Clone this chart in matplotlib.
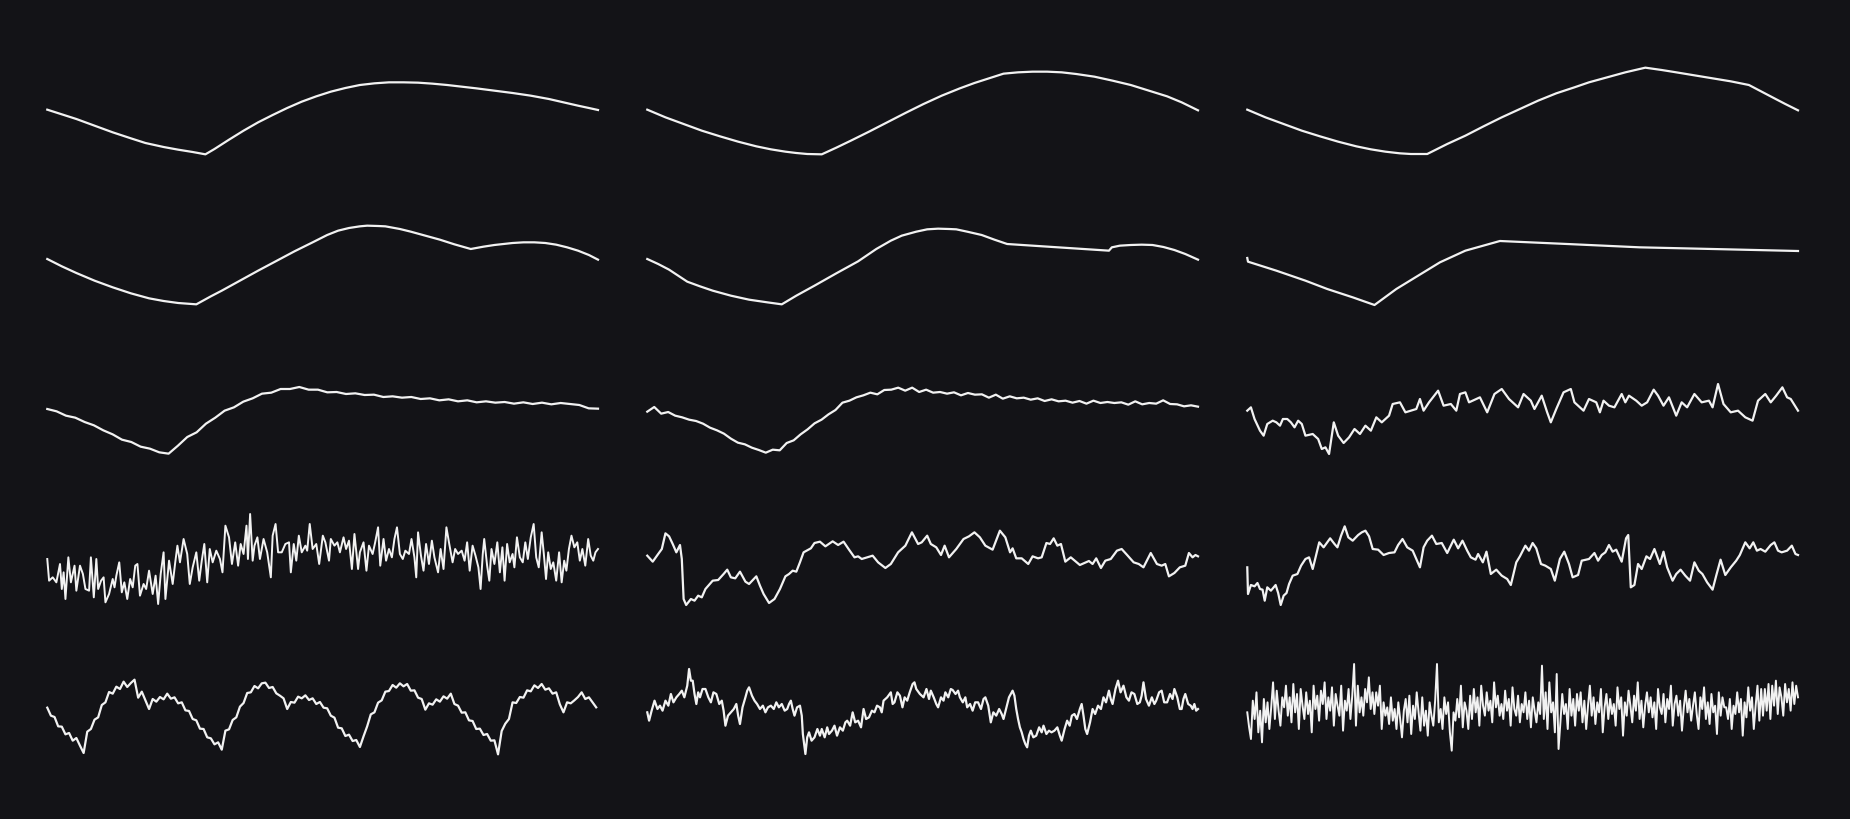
import numpy as np
import matplotlib
matplotlib.use("Agg")
import matplotlib.pyplot as plt

# 5 x 3 grid of unlabeled line sketches
# (levels in arbitrary units, higher = up)

# row 1
r1c1_x = [20, 60, 100, 150, 200, 250, 290, 340, 380, 420, 455, 480, 520, 560, 600, 640, 680, 720, 760, 800,
          840, 880, 920, 960, 1000, 1040, 1080, 1120, 1160, 1200, 1250, 1300, 1350, 1400, 1440, 1480, 1510, 1535]
r1c1_y = [223, 209, 195, 175, 155, 137, 123, 111, 103, 96, 89, 105, 133, 160, 185, 207, 228, 247, 263, 277,
          288, 297, 302, 305, 305, 304, 301, 297, 292, 287, 280, 273, 265, 255, 245, 235, 228, 222]
r1c2_x = [20, 70, 120, 170, 220, 270, 320, 360, 400, 430, 460, 500, 540, 580, 630, 680, 730, 780, 830, 880,
          920, 960, 1000, 1040, 1080, 1120, 1160, 1200, 1250, 1300, 1350, 1400, 1450, 1490, 1535]
r1c2_y = [223, 200, 180, 160, 143, 127, 113, 104, 97, 93, 90, 89, 109, 130, 157, 185, 213, 240, 265, 287,
          303, 317, 331, 335, 337, 337, 335, 330, 322, 310, 297, 280, 263, 245, 221]
r1c3_x = [20, 70, 120, 170, 220, 270, 320, 360, 400, 440, 470, 515, 570, 620, 670, 720, 770, 820, 870, 920,
          960, 1000, 1060, 1115, 1160, 1200, 1250, 1300, 1350, 1400, 1435, 1470, 1500, 1535]
r1c3_y = [223, 200, 180, 160, 143, 127, 113, 104, 97, 92, 90, 90, 120, 145, 173, 200, 225, 250, 272, 290,
          305, 317, 335, 349, 342, 335, 326, 317, 308, 297, 277, 257, 240, 221]

# row 2
r2c1_x = [20, 60, 100, 150, 200, 250, 300, 340, 380, 430, 470, 500, 550, 600, 650, 700, 750, 790, 820, 850,
          880, 900, 930, 950, 990, 1020, 1060, 1100, 1140, 1185, 1220, 1250, 1300, 1330, 1360, 1390, 1420, 1450,
          1480, 1510, 1535]
r2c1_y = [180, 158, 138, 115, 95, 77, 62, 54, 48, 44, 68, 85, 115, 145, 174, 203, 230, 252, 265, 273,
          278, 280, 279, 278, 270, 262, 250, 238, 224, 210, 217, 222, 228, 230, 230, 228, 223, 215,
          205, 192, 178]
r2c2_x = [20, 50, 80, 105, 130, 165, 200, 250, 300, 350, 390, 430, 480, 540, 600, 650, 690, 720, 760, 790,
          820, 850, 870, 900, 940, 975, 1010, 1080, 1150, 1220, 1290, 1298, 1320, 1350, 1380, 1410, 1440, 1470,
          1500, 1535]
r2c2_y = [180, 165, 148, 130, 112, 98, 85, 70, 58, 50, 44, 70, 100, 137, 173, 210, 235, 250, 262, 269,
          271, 270, 269, 262, 252, 238, 225, 220, 215, 210, 205, 215, 220, 222, 223, 222, 216, 207,
          195, 178]
r2c3_x = [20, 22, 100, 180, 240, 310, 370, 430, 490, 550, 620, 715, 900, 1100, 1300, 1535]
r2c3_y = [183, 172, 145, 115, 90, 65, 42, 90, 130, 170, 205, 234, 225, 215, 210, 204]

# row 3
r3c1_y = [180, 173, 160, 154, 141, 131, 116, 104, 88, 81, 67, 61, 50, 46, 70, 96, 110, 136, 154, 175,
          185, 202, 212, 226, 229, 240, 240, 246, 238, 238, 230, 231, 225, 227, 222, 223, 216, 218, 214, 216,
          210, 212, 206, 209, 203, 206, 200, 203, 199, 201, 196, 200, 195, 199, 194, 198, 195, 192, 182, 181]
r3c2_y = [172, 186, 166, 171, 160, 155, 148, 144, 136, 124, 116, 106, 91, 79, 74, 64, 57, 49, 58, 56,
          78, 86, 104, 119, 137, 148, 164, 177, 199, 205, 215, 221, 229, 224, 237, 238, 244, 235, 244, 231,
          238, 229, 231, 226, 230, 221, 228, 223, 224, 214, 223, 211, 218, 212, 214, 208, 212, 204, 209, 203,
          205, 199, 204, 196, 205, 198, 201, 198, 200, 193, 203, 194, 198, 196, 206, 195, 194, 188, 191, 187]
r3c3 = [(20, 175), (30, 185), (40, 150), (55, 115), (65, 100), (75, 135), (90, 145), (100, 140), (110, 130),
        (118, 150), (130, 150), (140, 140), (150, 125), (160, 145), (170, 135), (180, 100), (200, 105),
        (215, 90), (225, 60), (235, 65), (245, 45), (258, 140), (270, 100), (285, 78), (300, 95), (315, 120),
        (330, 105), (345, 130), (360, 115), (375, 155), (390, 140), (410, 160), (420, 195), (440, 200),
        (455, 170), (470, 175), (485, 180), (495, 210), (505, 175), (520, 200), (545, 235), (560, 190),
        (580, 195), (595, 175), (605, 225), (620, 230), (630, 200), (660, 215), (680, 170), (700, 225),
        (720, 240), (740, 210), (765, 185), (780, 225), (800, 205), (810, 180), (830, 220), (845, 170),
        (855, 140), (870, 180), (890, 230), (910, 240), (920, 200), (945, 175), (960, 210), (980, 200),
        (990, 170), (1000, 205), (1015, 190), (1030, 185), (1050, 225), (1060, 200), (1070, 220), (1090, 205),
        (1105, 190), (1120, 200), (1138, 238), (1150, 220), (1165, 190), (1180, 215), (1200, 160), (1215, 200),
        (1230, 185), (1250, 225), (1270, 200), (1290, 205), (1300, 185), (1315, 255), (1330, 195), (1350, 170),
        (1370, 175), (1390, 155), (1410, 145), (1425, 205), (1445, 225), (1460, 200), (1475, 220), (1492, 245),
        (1505, 215), (1515, 210), (1535, 175)]

# row 4
r4c1 = [(20, 165), (25, 100), (35, 110), (45, 95), (55, 150), (60, 75), (65, 125), (70, 45), (78, 170), (85, 95),
        (95, 145), (100, 70), (110, 145), (118, 120), (125, 75), (135, 70), (140, 170), (148, 50), (155, 165),
        (160, 75), (168, 100), (175, 110), (180, 35), (190, 60), (200, 105), (205, 80), (210, 115), (218, 155),
        (225, 65), (232, 95), (240, 45), (248, 105), (255, 80), (262, 145), (268, 150), (275, 55), (285, 90),
        (292, 75), (300, 130), (310, 60), (318, 115), (325, 30), (332, 120), (340, 185), (345, 45), (355, 160),
        (365, 90), (372, 155), (378, 205), (385, 155), (395, 225), (405, 180), (412, 90), (420, 140), (430, 185),
        (438, 100), (445, 160), (452, 210), (460, 95), (467, 195), (475, 155), (485, 190), (495, 165), (502, 125),
        (510, 265), (520, 230), (528, 150), (537, 215), (545, 145), (552, 210), (560, 180), (568, 265), (572, 165),
        (578, 300), (585, 160), (590, 205), (598, 230), (605, 165), (615, 225), (625, 185), (635, 110), (640, 235),
        (648, 270), (655, 185), (665, 185), (675, 210), (685, 215), (690, 125), (698, 210), (705, 160), (712, 235),
        (720, 185), (730, 205), (735, 190), (742, 270), (750, 195), (760, 210), (768, 150), (778, 235), (785, 215),
        (795, 160), (800, 225), (810, 205), (818, 215), (825, 185), (835, 230), (842, 195), (850, 220), (858, 135),
        (865, 240), (875, 135), (880, 185), (890, 215), (898, 130), (905, 205), (915, 180), (922, 215), (930, 260),
        (936, 145), (945, 225), (952, 160), (960, 195), (968, 170), (975, 225), (982, 260), (990, 180), (998, 165),
        (1005, 190), (1015, 180), (1022, 225), (1030, 170), (1035, 110), (1040, 245), (1048, 175), (1055, 130),
        (1062, 210), (1070, 150), (1078, 220), (1085, 170), (1095, 125), (1102, 195), (1110, 135), (1118, 260),
        (1125, 215), (1135, 155), (1142, 195), (1150, 180), (1160, 190), (1168, 160), (1175, 215), (1182, 130),
        (1190, 205), (1198, 175), (1206, 140), (1212, 75), (1218, 180), (1222, 225), (1230, 145), (1236, 100),
        (1242, 195), (1250, 150), (1258, 215), (1265, 125), (1272, 200), (1278, 100), (1285, 210), (1292, 155),
        (1300, 180), (1305, 140), (1312, 230), (1320, 170), (1328, 155), (1335, 215), (1342, 165), (1350, 230),
        (1358, 270), (1365, 170), (1372, 140), (1380, 245), (1386, 180), (1392, 105), (1398, 185), (1405, 135),
        (1412, 155), (1420, 100), (1428, 185), (1435, 95), (1442, 160), (1448, 130), (1455, 195), (1462, 235),
        (1470, 200), (1478, 215), (1485, 160), (1492, 195), (1500, 145), (1508, 225), (1515, 175), (1522, 160),
        (1528, 185), (1535, 195)]
r4c2 = [(20, 175), (35, 157), (50, 180), (60, 195), (70, 242), (80, 233), (90, 210), (100, 185), (110, 207),
        (115, 165), (120, 45), (127, 27), (140, 45), (150, 40), (160, 55), (170, 50), (180, 75), (200, 100),
        (215, 102), (230, 120), (240, 133), (250, 110), (262, 107), (275, 127), (290, 97), (300, 90), (320, 113),
        (330, 85), (340, 60), (355, 33), (370, 45), (385, 75), (400, 113), (410, 120), (420, 130), (430, 127),
        (440, 155), (450, 185), (470, 197), (480, 213), (495, 217), (510, 203), (530, 218), (545, 207), (560, 217),
        (575, 193), (590, 170), (600, 173), (610, 165), (625, 170), (640, 175), (655, 155), (675, 138), (690, 150),
        (710, 185), (730, 205), (748, 245), (765, 210), (775, 215), (790, 235), (800, 210), (815, 200), (828, 177),
        (838, 205), (850, 170), (870, 195), (890, 225), (905, 233), (920, 245), (935, 230), (950, 205), (970, 193),
        (990, 250), (1005, 230), (1018, 185), (1025, 197), (1035, 167), (1050, 167), (1068, 150), (1080, 173),
        (1095, 167), (1105, 170), (1118, 213), (1128, 210), (1138, 227), (1148, 205), (1158, 210), (1170, 157),
        (1185, 170), (1210, 147), (1235, 159), (1245, 150), (1255, 167), (1268, 138), (1280, 160), (1295, 165),
        (1312, 190), (1325, 195), (1340, 177), (1358, 155), (1372, 150), (1385, 140), (1405, 183), (1422, 150),
        (1435, 145), (1445, 150), (1455, 113), (1470, 123), (1485, 140), (1500, 145), (1510, 183), (1520, 170),
        (1528, 177), (1535, 173)]
r4c3 = [(20, 140), (22, 60), (30, 87), (40, 83), (48, 93), (55, 75), (62, 73), (68, 40), (75, 80), (85, 70),
        (98, 87), (105, 63), (112, 27), (120, 55), (128, 63), (135, 90), (145, 115), (158, 120), (168, 145),
        (180, 165), (190, 170), (200, 135), (210, 180), (218, 215), (230, 200), (248, 227), (260, 210), (268, 200),
        (278, 235), (288, 263), (298, 230), (310, 220), (325, 237), (335, 245), (345, 250), (355, 233), (365, 195),
        (380, 193), (395, 177), (410, 183), (425, 185), (435, 207), (447, 225), (460, 200), (475, 190), (485, 165),
        (495, 140), (505, 200), (515, 220), (528, 235), (540, 210), (555, 213), (570, 183), (588, 223), (600, 197),
        (612, 220), (625, 190), (635, 170), (648, 163), (655, 180), (668, 155), (678, 187), (690, 120), (705, 133),
        (720, 115), (735, 105), (745, 87), (760, 155), (770, 173), (785, 205), (795, 190), (805, 213), (815, 197),
        (828, 150), (840, 145), (855, 135), (866, 100), (880, 165), (892, 187), (905, 150), (915, 110), (930, 117),
        (940, 160), (960, 165), (975, 183), (985, 160), (995, 177), (1005, 185), (1015, 207), (1025, 187),
        (1035, 193), (1050, 157), (1062, 227), (1068, 237), (1075, 80), (1085, 87), (1095, 150), (1105, 135),
        (1118, 173), (1128, 165), (1140, 195), (1155, 150), (1165, 187), (1175, 140), (1190, 100), (1200, 120),
        (1212, 133), (1225, 115), (1238, 100), (1250, 155), (1262, 130), (1272, 120), (1285, 95), (1300, 73),
        (1310, 115), (1322, 163), (1335, 117), (1350, 140), (1365, 160), (1375, 177), (1390, 215), (1402, 197),
        (1412, 215), (1422, 190), (1432, 195), (1445, 187), (1460, 207), (1470, 215), (1480, 190), (1490, 185),
        (1505, 190), (1518, 205), (1528, 180), (1535, 177)]

# row 5
r5c1_y = [184, 160, 156, 128, 127, 104, 108, 85, 93, 70, 48, 112,
          120, 148, 155, 192, 200, 231, 226, 247, 240, 262, 246, 258,
          268, 214, 232, 206, 180, 210, 202, 216, 209, 226, 211, 215,
          197, 200, 176, 174, 150, 146, 121, 120, 95, 92, 74, 80,
          58, 115, 119, 147, 155, 187, 198, 228, 230, 249, 242, 257,
          259, 243, 246, 227, 220, 212, 180, 201, 199, 217, 212, 221,
          207, 212, 195, 201, 184, 182, 160, 154, 124, 122, 99, 103,
          84, 87, 66, 98, 128, 164, 170, 199, 206, 232, 234, 252,
          244, 257, 248, 255, 235, 236, 214, 210, 178, 197, 193, 209,
          202, 218, 211, 226, 195, 190, 169, 170, 146, 144, 120, 121,
          102, 105, 85, 86, 44, 114, 136, 150, 200, 198, 216, 214,
          236, 233, 251, 243, 255, 238, 242, 226, 230, 194, 170, 200,
          197, 206, 216, 230, 210, 215, 200, 185]
r5c2 = [(20, 170), (25, 145), (32, 175), (40, 205), (48, 180), (55, 190), (62, 175), (70, 205), (78, 190),
        (85, 225), (92, 200), (100, 215), (108, 225), (115, 235), (122, 215), (130, 250), (135, 300), (140, 265),
        (145, 265), (150, 225), (155, 195), (160, 230), (165, 215), (172, 240), (180, 240), (188, 215), (195, 200),
        (202, 230), (210, 225), (218, 195), (225, 205), (230, 175), (235, 130), (242, 160), (250, 170), (258, 180),
        (265, 195), (270, 160), (275, 135), (282, 185), (290, 215), (295, 235), (300, 245), (308, 220), (315, 205),
        (322, 195), (330, 180), (338, 190), (345, 170), (352, 185), (360, 190), (368, 180), (375, 200), (382, 185),
        (390, 195), (398, 175), (405, 180), (410, 195), (415, 205), (420, 180), (425, 160), (432, 185), (440, 190),
        (445, 160), (448, 105), (455, 45), (460, 95), (465, 110), (472, 85), (480, 95), (488, 120), (495, 100),
        (500, 120), (508, 95), (515, 125), (520, 105), (528, 115), (535, 130), (542, 100), (550, 125), (558, 115),
        (565, 140), (570, 145), (578, 130), (585, 170), (592, 140), (600, 145), (608, 125), (615, 180), (622, 150),
        (630, 155), (638, 175), (645, 170), (652, 190), (660, 185), (665, 170), (670, 205), (680, 215), (690, 230),
        (695, 195), (700, 200), (708, 230), (715, 220), (722, 185), (728, 215), (735, 205), (742, 230), (750, 255),
        (755, 260), (760, 240), (770, 225), (780, 215), (788, 240), (795, 210), (800, 235), (808, 215), (815, 195),
        (820, 185), (828, 215), (835, 205), (840, 230), (848, 215), (855, 240), (860, 237), (868, 225), (875, 235),
        (880, 215), (888, 200), (895, 215), (900, 185), (908, 195), (915, 175), (922, 200), (930, 200), (938, 180),
        (945, 210), (950, 215), (958, 190), (965, 140), (972, 170), (980, 160), (988, 180), (995, 165), (1000, 150),
        (1008, 185), (1015, 215), (1020, 225), (1025, 235), (1030, 220), (1035, 180), (1040, 150), (1045, 125),
        (1050, 110), (1055, 90), (1060, 75), (1065, 65), (1070, 100), (1075, 115), (1082, 95), (1090, 100),
        (1098, 125), (1105, 110), (1110, 130), (1118, 105), (1125, 115), (1132, 110), (1140, 115), (1148, 125),
        (1155, 100), (1160, 85), (1168, 120), (1175, 145), (1182, 130), (1188, 160), (1195, 165), (1202, 150),
        (1210, 180), (1215, 195), (1220, 160), (1225, 120), (1230, 105), (1238, 140), (1245, 180), (1252, 165),
        (1260, 190), (1268, 180), (1275, 215), (1282, 200), (1290, 235), (1295, 210), (1300, 195), (1308, 240),
        (1315, 265), (1322, 230), (1330, 250), (1338, 215), (1345, 205), (1352, 230), (1360, 225), (1368, 195),
        (1375, 200), (1380, 220), (1385, 260), (1392, 210), (1400, 190), (1408, 215), (1415, 195), (1420, 205),
        (1428, 230), (1435, 235), (1442, 200), (1450, 200), (1458, 225), (1465, 210), (1470, 240), (1478, 215),
        (1485, 180), (1490, 180), (1495, 210), (1500, 225), (1508, 195), (1515, 190), (1520, 180), (1525, 195),
        (1530, 175), (1535, 180)]
r5c3_y = [170, 125, 90, 205, 150, 230, 110, 175, 80, 210, 140, 200, 120, 185, 260, 150, 235, 175, 130, 215,
          185, 250, 160, 215, 140, 255, 170, 225, 120, 240, 190, 150, 230, 165, 205, 110, 250, 180, 220, 145,
          235, 195, 260, 150, 215, 175, 245, 130, 225, 190, 160, 250, 115, 205, 175, 240, 150, 220, 315, 130,
          250, 170, 215, 160, 240, 200, 275, 180, 230, 165, 230, 190, 250, 120, 200, 160, 185, 135, 215, 145,
          180, 120, 200, 150, 95, 175, 210, 140, 220, 105, 190, 150, 230, 170, 115, 215, 130, 175, 100, 200,
          160, 130, 205, 315, 140, 180, 120, 215, 165, 200, 110, 55, 170, 145, 210, 155, 250, 125, 200, 175,
          120, 220, 150, 240, 170, 215, 130, 250, 190, 160, 230, 175, 205, 140, 260, 185, 220, 160, 195, 150,
          235, 175, 210, 130, 245, 180, 160, 220, 140, 195, 170, 230, 150, 205, 125, 215, 175, 140, 200, 165,
          310, 150, 230, 120, 260, 170, 200, 110, 285, 60, 140, 225, 165, 195, 120, 240, 160, 210, 130, 225,
          175, 230, 140, 205, 120, 190, 250, 160, 215, 135, 200, 170, 240, 110, 185, 225, 150, 210, 165, 195,
          130, 245, 180, 215, 100, 200, 160, 235, 190, 140, 220, 175, 260, 150, 205, 125, 190, 230, 170, 215,
          155, 200, 120, 240, 185, 165, 225, 140, 210, 180, 250, 130, 195, 220, 160, 205, 115, 185, 235, 170,
          210, 145, 190, 230, 165, 120, 215, 180, 245, 150, 200, 135, 225, 170, 190, 105, 230, 160, 215, 185,
          185, 150, 210, 120, 190, 165, 230, 170, 210, 100, 200, 155, 245, 175, 215, 120, 190, 250, 145, 240,
          160, 240, 175, 255, 150, 250, 190, 265, 165, 245, 215, 160, 255, 200, 240, 175, 260, 195, 250, 215]

BG = "#131317"
LINE = "#f2f2f2"

fig = plt.figure(figsize=(18.5, 8.2), dpi=100, facecolor=BG)

W, H = 1850.0, 820.0
col_left = [40, 640, 1240]          # crop left edges (px)
x0_off = 20 * 570 / 1568.0          # where the line starts inside a column
panel_w = 1515 * 570 / 1568.0
# (top px, height px, y range) for each row
rows = [(50, 135, 405), (185, 135, 405), (370, 100, 300), (500, 115, 345), (655, 115, 345)]


def unzip(pairs):
    xs, ys = zip(*pairs)
    return list(xs), list(ys)


series = [
    [(r1c1_x, r1c1_y), (r1c2_x, r1c2_y), (r1c3_x, r1c3_y)],
    [(r2c1_x, r2c1_y), (r2c2_x, r2c2_y), (r2c3_x, r2c3_y)],
    [(list(np.linspace(20, 1535, len(r3c1_y))), r3c1_y),
     (list(np.linspace(20, 1535, len(r3c2_y))), r3c2_y),
     unzip(r3c3)],
    [unzip(r4c1), unzip(r4c2), unzip(r4c3)],
    [(list(np.linspace(20, 1530, len(r5c1_y))), r5c1_y),
     unzip(r5c2),
     (list(np.linspace(20, 1535, len(r5c3_y))), r5c3_y)],
]

for i, (top, h, yr) in enumerate(rows):
    for j in range(3):
        left = col_left[j] + x0_off
        ax = fig.add_axes([left / W, 1 - (top + h) / H, panel_w / W, h / H])
        ax.set_facecolor(BG)
        xs, ys = series[i][j]
        lw = 1.4 if (i == 4 and j == 2) or (i == 3 and j == 0) else 1.6
        ax.plot(xs, ys, color=LINE, lw=lw, solid_joinstyle="round", clip_on=False)
        ax.set_xlim(20, 1535)
        ax.set_ylim(0, yr)
        ax.axis("off")

fig.savefig("out.png", dpi=100, facecolor=BG)
